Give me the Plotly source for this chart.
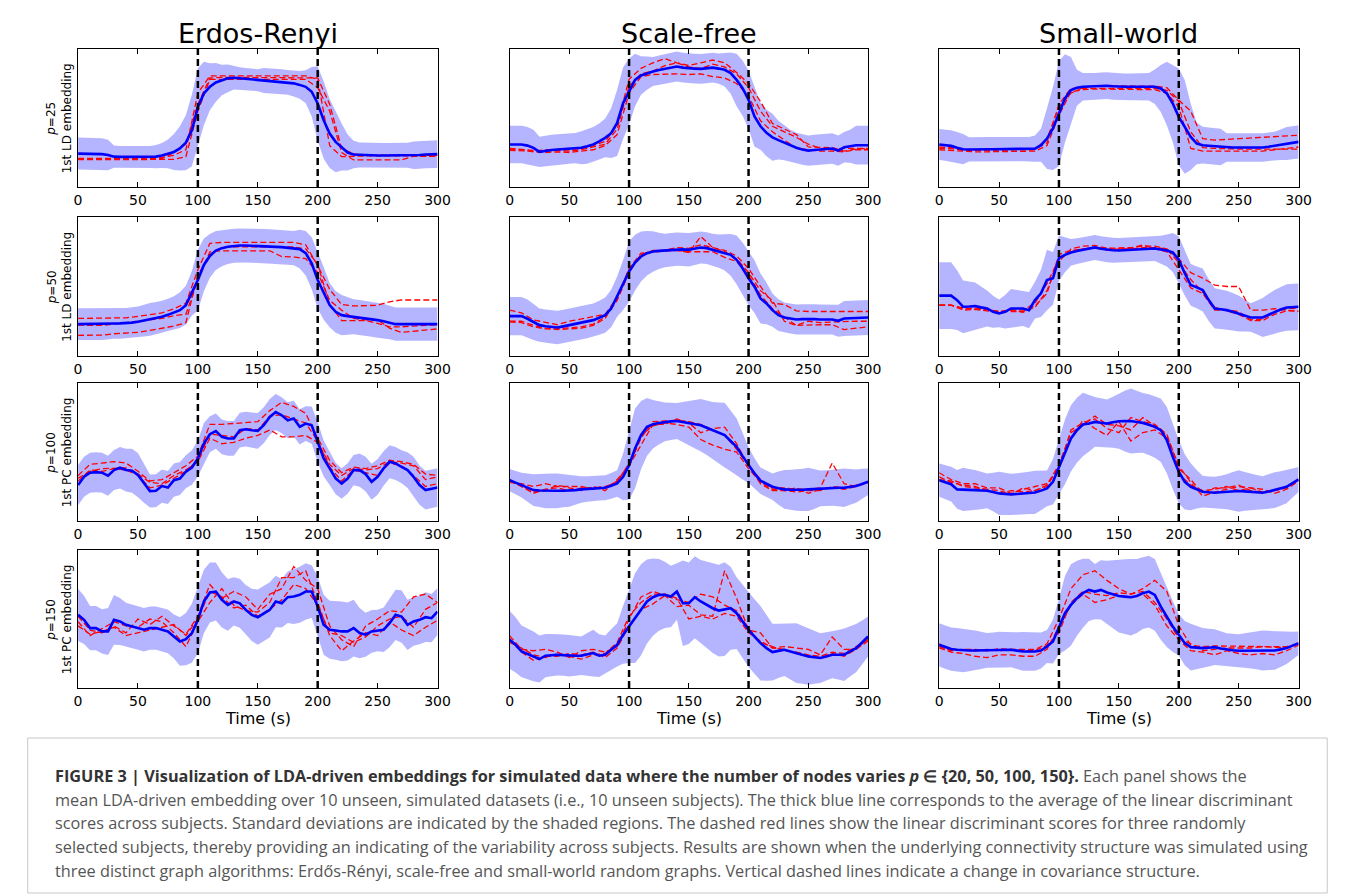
import plotly.graph_objects as go

W, H = 1358, 895

time5 = list(range(0, 301, 5))
time10 = list(range(0, 301, 10))
change_points = [100, 200]
x_ticks = [0, 50, 100, 150, 200, 250, 300]

column_titles = ["Erdos-Renyi", "Scale-free", "Small-world"]
row_labels = [
    "<i>p</i>=25<br>1st LD embedding",
    "<i>p</i>=50<br>1st LD embedding",
    "<i>p</i>=100<br>1st PC embedding",
    "<i>p</i>=150<br>1st PC embedding",
]
x_title = "Time (s)"

# ---------------- Erdos-Renyi, p=25 ----------------
er25_mean = [24.2,24.2,24.2,24.0,23.8,23.2,22.0,21.8,21.8,21.8,
             21.8,21.8,21.8,22.0,22.8,24.0,25.4,28.0,32.2,41.0,
             58.0,67.8,72.6,75.8,77.5,78.7,79.2,78.8,78.3,77.8,
             77.4,77.2,77.0,76.6,76.3,75.8,75.1,74.0,72.6,69.0,
             60.5,48.4,38.7,32.7,29.0,25.0,23.5,23.2,23.0,23.0,
             22.8,22.8,22.8,22.8,23.0,23.0,23.0,23.2,23.5,23.8,
             23.8]
er25_sd = [11.6,11.6,11.6,11.6,11.6,11.0,8.0,8.0,8.0,8.0,
           8.0,8.0,8.0,8.5,9.0,10.5,13.0,16.0,20.0,26.0,
           28.0,23.0,17.0,14.0,11.0,10.0,8.5,8.0,8.0,8.0,
           8.0,9.0,9.0,9.0,9.0,9.0,9.5,10.0,12.0,18.0,
           27.0,28.0,25.0,22.0,17.0,13.0,10.0,9.0,9.0,9.0,
           9.0,9.0,9.0,9.0,9.0,9.0,10.0,10.0,10.0,10.0,
           10.0]
er25_s1 = [20.8,20.8,20.8,20.8,20.8,20.8,20.8,21.5,23.0,27.0,
           68.0,80.5,80.5,80.5,80.5,80.5,80.5,80.5,80.5,80.5,
           78.0,30.0,22.0,22.5,22.5,22.5,22.5,22.5,22.5,22.5,
           22.5]
er25_s2 = [19.8,19.8,19.8,19.8,19.8,19.8,19.8,20.0,20.0,22.0,
           55.0,78.0,78.0,78.0,78.0,78.0,78.0,78.0,78.0,78.0,
           72.0,55.0,25.0,19.6,19.6,19.6,19.6,19.6,22.3,22.3,
           22.3]
er25_s3 = [20.3,20.3,20.3,20.3,20.3,20.3,20.3,20.5,25.0,31.0,
           60.0,79.0,79.5,79.5,79.5,79.5,79.5,79.5,79.5,79.5,
           79.0,60.0,28.0,24.0,23.0,23.0,23.0,23.0,23.0,23.0,
           23.0]

# ---------------- Scale-free, p=25 ----------------
sf25_mean = [30.8,30.8,30.8,30.0,28.4,25.5,26.4,26.8,27.2,27.5,
             27.9,28.2,28.4,29.5,30.8,33.0,35.6,39.0,46.4,60.8,
             69.2,77.6,80.8,82.5,83.7,84.8,85.6,86.5,87.3,86.5,
             86.0,85.8,85.6,86.0,86.5,85.8,84.9,82.5,77.6,71.6,
             63.2,51.2,44.0,39.2,36.0,34.0,32.0,30.0,28.4,27.2,
             26.4,26.8,27.2,27.5,27.9,26.4,28.8,29.5,30.3,30.3,
             30.3]
sf25_sd = [13.5,13.5,13.5,13.5,13.0,11.0,11.0,11.0,11.0,11.0,
           11.0,11.0,12.0,12.6,12.6,13.0,14.0,18.0,24.0,26.0,
           24.0,19.0,14.0,12.0,10.5,10.5,10.8,10.8,10.8,10.8,
           10.8,10.8,10.8,10.8,10.8,11.0,12.0,15.0,19.0,20.0,
           21.0,22.0,17.0,17.0,17.0,14.0,12.6,11.5,11.0,11.0,
           11.0,11.0,11.0,11.0,11.0,11.0,11.0,12.0,14.0,14.0,
           14.0]
sf25_s1 = [28,27,26.5,26,26.5,26,27,29,31,42,
           73,82,84,88,90,87,86,89,87,82,
           72,55,44,40,36,31,28,27,28,28,
           28]
sf25_s2 = [27.5,27,25.5,25,25.5,25,26,27,30,38,
           68,80,81.5,82,82,81.5,82,80,79,75,
           66,48,40,34,28,27,26,26,25.5,27,
           27]
sf25_s3 = [26.5,26.5,26,27,27,27,28,30,33,45,
           78,86,90,93,90,88,90,92,90,83,
           75,62,46,42,38,29,29,28.5,26,27.5,
           28]

# ---------------- Small-world, p=25 ----------------
sw25_mean = [30.8,30.3,29.8,28.5,27.4,27.2,27.1,27.2,27.4,27.4,
             27.4,27.4,27.4,27.4,27.4,27.4,27.8,30.3,35.1,42.4,
             53.3,64.2,70.2,71.9,72.6,72.8,72.9,73.2,73.4,73.0,
             72.6,72.6,72.6,72.6,72.6,72.6,72.6,71.4,67.8,60.5,
             50.8,43.6,36.3,31.5,30.3,29.9,29.5,29.0,28.6,28.6,
             28.6,28.6,28.6,28.6,28.6,29.2,29.8,30.6,31.5,32.1,
             32.7]
sw25_sd = [11.3,11.3,11.3,11.3,11.0,8.8,8.8,8.8,8.8,8.8,
           8.8,8.8,8.8,8.8,8.8,8.8,9.5,12.0,22.0,30.0,
           38.0,32.0,24.0,13.0,10.0,9.7,9.7,9.7,9.7,9.7,
           9.7,9.7,9.7,9.7,9.7,10.0,12.5,17.0,23.0,28.0,
           35.0,34.0,24.0,15.0,13.3,13.3,13.3,13.3,10.3,10.3,
           10.3,10.3,10.3,10.3,10.3,10.3,10.3,11.0,12.0,12.0,
           12.0]
sw25_s1 = [27,26.5,25.5,25.5,25.5,25.5,25.5,25.5,26,30,
           52,69,70.5,71,71,70.5,70.5,71,70.5,68,
           58,28,26,26,26,26,26,26,27,28,
           29]
sw25_s2 = [29,28.5,26.5,26.5,26.5,26.5,26.5,26.5,27,35,
           58,68,72,73.5,73.5,73,73,73,73,72,
           63,55,35,34,34.5,35,35.5,36,36.5,37.5,
           37.5]
sw25_s3 = [28,27.5,27,27,27,27,27,27,27.5,32,
           60,71.5,71.5,71.5,71.5,71.5,71.5,71.5,71.5,70,
           62,40,28.5,28,27.5,27.5,27.5,27.5,27.5,27.5,
           27.5]

# ---------------- Erdos-Renyi, p=50 ----------------
er50_mean = [22.9,22.9,22.9,22.9,22.9,23.1,23.4,23.5,23.6,24.0,
             24.6,25.4,26.3,27.2,28.2,29.6,31.1,33.0,36.6,45.1,
             54.7,65.5,72.0,75.9,77.6,78.6,79.3,79.5,79.5,79.4,
             79.3,79.0,78.8,78.5,78.3,78.0,77.6,76.9,74.0,66.7,
             54.7,45.1,36.6,31.8,29.4,28.7,28.2,27.6,27.0,26.4,
             25.8,25.0,24.1,22.9,22.9,22.9,22.9,22.9,22.9,22.9,
             22.9]
er50_sd = [11.4,11.4,11.4,11.4,11.4,11.2,11.0,11.0,11.0,11.0,
           11.0,11.4,11.8,11.6,11.5,11.6,11.8,12.8,14.0,16.0,
           22.0,19.0,15.7,14.0,13.0,12.5,12.3,12.3,12.3,12.3,
           12.3,12.3,12.3,12.3,12.3,12.3,12.3,14.0,16.0,18.7,
           20.5,19.0,16.0,15.0,14.5,13.5,12.6,12.6,12.6,12.6,
           12.6,12.6,12.0,12.0,12.0,12.0,12.0,12.0,12.0,12.0,
           12.0]
er50_s1 = [27,27,27,27.5,27.5,28.5,29.5,31,34,38,
           62,81,81.7,81.7,81.7,81.7,81.7,81.7,81.7,80,
           65,48,37,36,36.3,36.5,39,40.3,40.3,40.3,
           40.3]
er50_s2 = [22.2,22.2,22,23,24,25,26,27,29,30,
           55,75,75.7,75.7,75.7,75.7,75.7,71.5,71.3,70,
           60,40,33,27,26,26,20,17,18,19,
           19.5]
er50_s3 = [14.9,14.9,15,16,16.5,17,18.5,20,21.5,24,
           58,73,78,78.5,78.5,78.5,78.5,78.5,78.5,77,
           66,37,25.5,25.5,25.5,23.5,21,21,21.5,22,
           22.5]

# ---------------- Scale-free, p=50 ----------------
sf50_mean = [28.7,28.7,28.7,26.8,24.6,22.2,21.4,21.0,20.5,21.3,
             22.2,23.0,23.9,24.8,25.8,27.5,29.4,34.2,42.7,51.1,
             60.7,67.2,71.6,74.0,75.2,75.6,75.9,76.4,76.9,76.7,
             76.4,77.2,78.1,77.6,76.4,75.5,74.5,72.8,69.2,63.1,
             55.9,49.9,41.4,37.8,33.0,29.4,27.7,27.0,26.3,26.5,
             26.7,26.5,26.3,26.3,26.3,25.3,27.0,27.2,27.5,27.6,
             27.7]
sf50_sd = [13.8,13.8,13.8,13.8,13.0,12.0,12.0,12.0,12.0,12.0,
           12.0,12.0,12.0,12.0,12.0,12.3,12.6,13.5,14.5,18.0,
           21.7,20.0,18.0,16.0,14.5,13.0,12.0,12.0,12.0,12.0,
           12.0,11.8,11.5,11.5,11.5,12.0,13.0,15.0,17.5,18.5,
           19.3,19.0,18.0,15.0,12.0,11.5,10.8,10.8,10.8,10.8,
           10.8,10.8,10.8,10.8,10.8,11.5,12.6,12.6,12.6,12.6,
           12.6]
sf50_s1 = [33,31,26,24,22.5,25,26.5,28,30,42,
           62,73,76,76,78,77.5,80,78,76,72,
           63,50,38,37,32.5,32,32,32,32,32,
           32]
sf50_s2 = [25,25,22,20,19,19.5,20,22,27,42,
           63,74,75,75.5,76,74.5,86,78,75,70,
           60,47,40,25,22,22.5,22.5,22.5,19,20,
           21]
sf50_s3 = [24.5,24,21,19.5,19.5,20.5,21,23,28,40,
           60,73,75,76,76,75,75,75,71,68,
           58,44,34,28,22,25,24,24.5,25,25,
           25]

# ---------------- Small-world, p=50 ----------------
sw50_mean = [43.4,43.4,43.4,40.2,35.4,35.6,35.9,35.0,34.2,31.8,
             30.6,31.8,34.2,34.2,34.2,33.0,40.2,45.1,54.7,55.9,
             70.4,72.8,74.5,75.5,76.4,77.2,78.1,77.2,76.4,76.1,
             75.9,76.1,76.4,76.6,76.9,77.1,77.3,76.6,75.9,74.5,
             69.2,59.5,51.1,49.4,47.5,40.2,34.2,33.6,33.0,31.8,
             30.6,29.2,27.7,27.7,27.7,29.7,31.8,33.4,34.9,35.2,
             35.4]
sw50_sd = [24.0,24.0,24.0,21.5,19.0,18.0,17.0,15.0,13.0,11.5,
           10.0,12.0,14.0,13.3,12.6,13.0,13.3,17.0,21.7,19.0,
           16.3,12.5,9.6,9.3,9.0,9.0,9.0,9.0,9.0,9.0,
           9.0,9.0,9.0,9.0,9.0,9.0,9.0,10.0,11.5,14.0,
           17.0,16.0,15.0,15.0,15.5,15.0,14.5,14.2,14.0,13.5,
           13.0,11.5,10.2,12.0,14.0,15.0,15.7,16.2,16.8,16.8,
           16.8]
sw50_s1 = [36.6,36.6,34.5,34,33,32,32,32,36,45,
           73,76,77,78,77.5,77.5,78,79,79,77,
           70,60,56,51,50,50,33,33,34,33,
           32]
sw50_s2 = [36.6,36.6,33,33.5,32.5,31.5,33,31.5,35,47,
           68,77,79,79.5,77.5,77,77.5,80,77,75,
           62,49,45,33,33,32,26,26.5,32,34,
           34.5]
sw50_s3 = [36.6,36.6,34,34.5,33.5,32,33,33,38,52,
           70,75,77,78,76,77,77,78,78,77,
           67,55,46,35,32.5,30,25.5,25.5,30,32.5,
           32.5]

# ---------------- Erdos-Renyi, p=100 ----------------
er100_mean = [26.0,32.1,35.0,35.4,35.0,32.8,36.9,38.6,36.9,36.4,
              33.3,27.2,21.7,21.9,25.3,24.3,29.6,30.8,35.7,38.8,
              45.3,56.1,62.9,65.1,61.0,59.8,59.8,65.8,66.5,65.8,
              65.3,69.4,75.4,79.0,76.6,73.0,74.2,68.2,70.6,69.4,
              57.3,45.3,38.1,30.8,27.2,30.8,36.9,36.9,34.0,28.4,
              32.0,38.1,42.9,41.7,39.3,36.9,32.0,26.0,22.4,23.6,
              24.3]
er100_sd = [14.5,14.5,14.5,14.5,14.5,14.5,14.5,15.0,15.5,16.0,
            16.0,14.0,12.0,12.0,12.0,12.0,12.0,12.0,12.0,12.5,
            13.0,15.0,13.0,12.8,12.6,12.6,12.6,12.6,12.6,12.8,
            13.0,13.0,13.0,13.0,13.0,13.0,13.0,12.8,12.6,13.5,
            14.5,13.0,12.0,11.5,11.0,11.0,11.0,12.0,12.6,13.0,
            13.0,12.5,12.0,12.0,12.0,13.0,14.5,14.3,14.0,14.0,
            14.0]
er100_s1 = [33,41,42,43,42,36,29,30,35,40,
            47,70,70,70.5,71,72,80,86,83,78,
            60,44,35,39,38,40,44,43,41,34,
            33]
er100_s2 = [31,36,38,38,38.5,34,28,27,33,37,
            43,60,56,57,60,62,66,61,61,62,
            57,41,33,38,37,38,43,42,40,30,
            32]
er100_s3 = [29,37,36,38,37,33,24,26,31,36,
            44,63,62,61,67,66,76,77,74,71,
            58,39,29,37,35,33,42,40,33,25,
            27]

# ---------------- Scale-free, p=100 ----------------
sf100_mean = [29.6,27.8,26.0,24.2,22.4,22.1,21.9,21.9,21.9,21.9,
              21.9,22.4,22.9,23.2,23.6,23.8,24.1,25.5,27.2,32.0,
              40.5,52.5,62.2,68.2,70.1,71.0,71.8,72.2,72.5,71.8,
              71.1,70.2,69.4,67.6,65.8,63.9,62.2,58.0,53.7,47.0,
              40.5,34.5,29.2,27.0,24.8,23.8,22.9,22.6,22.4,22.6,
              22.9,23.2,23.6,23.8,24.1,24.1,24.1,24.7,25.3,26.8,
              28.4]
sf100_sd = [8.0,8.5,9.0,10.2,11.5,12.0,12.6,12.6,12.6,12.0,
            11.5,10.5,9.6,9.3,9.0,9.0,9.0,9.3,9.6,17.0,
            25.0,29.0,24.7,21.0,17.5,15.5,14.0,13.5,13.0,14.5,
            16.0,17.5,19.0,19.7,20.5,22.0,23.5,22.0,20.5,17.0,
            13.0,11.0,9.6,9.6,9.6,12.0,14.0,14.5,15.0,15.3,
            15.7,14.5,13.0,13.0,13.0,13.5,14.0,13.0,12.0,11.0,
            9.6]
sf100_s1 = [28,27,25,27,25,25,25,23,24,29,
            40,60,72,72.5,73,72,70,66,62,52,
            40,30,24,24,23,23,24,42,27,25,
            28]
sf100_s2 = [30,25,21,22,26,24,22,25,22,30,
            40,55,70,70,74,71,64,67,68,56,
            40,27,22,22,21,22,22,25,24,26,
            28]
sf100_s3 = [29,25,20,23,24,22,24,24,25,28,
            42,62,69,71,70,68,59,55,52,50,
            38,28,23,22,24,20,23,24,23,25,
            28]

# ---------------- Small-world, p=100 ----------------
sw100_mean = [29.6,28.4,26.7,22.9,22.9,22.6,22.4,22.1,21.9,21.0,
              20.0,19.6,19.3,19.6,20.0,20.3,20.7,22.0,23.6,28.4,
              39.3,50.1,59.8,65.8,69.9,70.6,71.8,71.2,70.6,71.5,
              72.3,72.4,72.5,71.8,71.1,69.8,68.2,65.8,58.6,46.5,
              35.7,28.4,24.8,23.0,21.2,20.8,20.5,20.8,21.2,21.5,
              21.7,21.5,21.2,20.8,20.5,21.4,22.4,23.6,24.8,27.5,
              30.1]
sw100_sd = [12.0,12.3,12.6,14.0,15.7,15.0,14.5,13.5,12.6,14.0,
            15.7,15.3,15.0,15.0,15.0,15.3,15.7,14.5,13.0,16.5,
            20.5,23.5,24.0,23.5,23.0,20.5,18.0,17.7,17.5,18.5,
            20.0,22.0,23.5,22.5,21.7,22.0,22.3,23.0,24.0,23.5,
            23.0,20.0,17.0,14.0,11.5,11.5,11.5,12.0,12.6,14.0,
            15.0,14.0,13.0,12.5,12.0,12.5,13.0,12.5,12.0,10.5,
            9.0]
sw100_s1 = [35,30,27,27,24,24,20,23,25,27,
            38,66,71,74,67,64,75,72,70,63,
            38,30,20,24,24,26,22,21,22,24,
            30]
sw100_s2 = [32,28,26,25,22,20,22,21,22,25,
            40,60,73,67,62,72,58,64,66,60,
            34,26,22,23,25,22,24,21,22,25,
            30]
sw100_s3 = [30,29,25,24,23,22,19,24,22,26,
            41,64,70,76,70,69,66,75,69,62,
            40,28,18,21,23,25,24,23,20,23,
            29]

# ---------------- Erdos-Renyi, p=150 ----------------
er150_mean = [53.0,49.4,43.4,43.4,41.0,41.0,49.4,48.2,45.8,44.6,
              43.4,42.2,43.4,43.4,42.2,41.0,37.3,33.7,35.4,39.8,
              49.4,62.7,69.2,69.9,63.9,60.2,62.7,61.4,56.6,53.0,
              51.3,53.7,56.6,62.7,61.4,65.8,66.3,67.5,69.9,69.9,
              59.0,45.8,42.2,41.7,41.0,41.0,43.4,39.8,38.6,41.0,
              41.7,42.2,47.0,53.0,51.8,45.8,48.2,49.4,51.3,50.6,
              55.4]
er150_sd = [19.0,17.5,16.0,16.0,16.0,17.0,18.0,17.0,16.0,15.8,
            15.7,15.7,15.7,15.7,15.7,15.8,16.0,17.5,19.0,21.5,
            24.0,23.0,21.7,21.0,20.0,18.7,17.5,17.7,18.0,19.0,
            20.0,20.0,20.0,18.7,17.5,18.7,20.0,20.3,20.5,19.0,
            21.7,21.7,21.0,21.3,21.7,21.0,20.5,18.2,16.0,15.5,
            15.0,16.2,17.5,18.2,19.0,18.2,17.5,17.7,18.0,17.5,
            17.0]
er150_s1 = [52,42,40,45,40,50,46,52,45,39,
            52,75,65,70,66,57,68,72,88,78,
            72,45,35,30,45,50,56,55,66,68,
            62]
er150_s2 = [48,38,43,48,45,44,50,48,40,30,
            48,62,72,60,56,55,62,80,80,85,
            62,38,27,34,40,38,48,42,38,44,
            49]
er150_s3 = [45,39,41,44,38,40,42,44,46,38,
            50,70,66,58,60,52,57,64,75,72,
            60,40,38,33,37,45,50,52,44,57,
            62]

# ---------------- Scale-free, p=150 ----------------
sf150_mean = [34.9,31.3,26.5,24.7,22.9,21.0,23.4,23.8,24.1,23.8,
              23.4,23.4,23.4,24.4,25.3,23.4,24.1,27.7,31.3,38.6,
              44.6,50.6,56.6,62.7,65.8,67.5,67.5,66.3,69.9,61.4,
              61.4,65.8,62.7,60.2,57.8,56.1,57.1,57.8,54.2,48.2,
              42.2,37.3,32.5,28.9,26.0,26.9,27.7,26.5,25.3,24.1,
              22.9,22.3,21.7,22.9,24.1,24.1,24.1,26.5,28.9,33.0,
              37.3]
sf150_sd = [21.0,20.0,18.7,18.3,18.0,17.0,15.7,15.3,15.0,15.0,
            15.0,14.5,14.0,15.5,17.0,15.5,14.0,14.8,15.7,21.0,
            26.5,32.5,33.0,30.5,28.0,26.0,24.0,22.2,20.5,31.0,
            29.5,29.7,30.0,31.2,32.5,33.2,34.0,30.0,26.0,26.5,
            27.0,27.0,27.0,23.7,20.5,19.7,19.0,20.3,21.7,21.0,
            20.5,19.2,18.0,17.5,17.0,18.0,19.0,18.2,17.5,16.0,
            14.5]
sf150_s1 = [38,28,27,28,26,22,27,28,26,30,
            50,66,70,67,59,60,53,52,85,65,
            42,40,29,30,29,28,24,37,28,28,
            36]
sf150_s2 = [33,29,24,22,25,23,21,24,25,33,
            52,62,68,68,65,50,52,50,54,52,
            40,34,29,28,25,23,22,25,23,28,
            34]
sf150_s3 = [36,26,20,23,23,25,24,26,22,29,
            45,57,61,67,64,62,68,66,60,56,
            43,33,30,27,26,24,23,26,25,30,
            35]

# ---------------- Small-world, p=150 ----------------
sw150_mean = [31.3,29.7,28.2,27.7,27.2,27.2,27.2,27.2,27.2,27.4,
              27.7,27.7,27.7,27.1,26.5,26.5,26.5,27.2,30.1,33.7,
              44.6,54.2,60.2,65.1,68.7,71.1,69.9,71.1,69.2,68.0,
              66.7,66.2,65.8,66.7,68.7,69.9,67.5,59.0,51.8,44.6,
              38.6,32.5,29.6,29.2,28.9,29.2,29.6,28.6,27.7,27.3,
              27.0,27.1,27.2,27.2,27.2,27.2,27.2,28.0,28.9,30.7,
              32.5]
sw150_sd = [15.7,15.7,15.7,15.7,15.7,15.1,14.5,13.5,12.6,12.8,
            13.0,12.8,12.6,13.3,14.0,14.0,14.0,13.0,12.0,16.0,
            20.0,27.0,29.5,27.2,25.0,22.5,20.0,21.5,23.0,24.7,
            26.5,27.1,27.7,26.8,26.0,26.0,26.0,24.0,22.0,18.5,
            15.0,16.0,17.0,15.7,14.5,13.7,13.0,12.5,12.0,12.0,
            12.0,12.5,13.0,13.7,14.5,14.2,14.0,12.7,11.5,10.0,
            8.5]
sw150_s1 = [30,27,28,28,27,28.5,28,28,28,32,
            50,72,82,85,78,72,68,72,78,70,
            45,31,30,30.5,30.5,30.5,30,30,29.5,29.5,
            32]
sw150_s2 = [29,26,25,23,22,24,24,23,23,28,
            44,60,68,62,64,67,66,68,60,45,
            35,27,26,24,27,25,24,25,24,27,
            31]
sw150_s3 = [32,27,28,27,28,27,28,27,27,31,
            40,62,70,68,67,69,68,70,62,50,
            36,32,27,28,29,29,29,30,30,30,
            32]

panels = [
    [(er25_mean, er25_sd, [er25_s1, er25_s2, er25_s3]),
     (sf25_mean, sf25_sd, [sf25_s1, sf25_s2, sf25_s3]),
     (sw25_mean, sw25_sd, [sw25_s1, sw25_s2, sw25_s3])],
    [(er50_mean, er50_sd, [er50_s1, er50_s2, er50_s3]),
     (sf50_mean, sf50_sd, [sf50_s1, sf50_s2, sf50_s3]),
     (sw50_mean, sw50_sd, [sw50_s1, sw50_s2, sw50_s3])],
    [(er100_mean, er100_sd, [er100_s1, er100_s2, er100_s3]),
     (sf100_mean, sf100_sd, [sf100_s1, sf100_s2, sf100_s3]),
     (sw100_mean, sw100_sd, [sw100_s1, sw100_s2, sw100_s3])],
    [(er150_mean, er150_sd, [er150_s1, er150_s2, er150_s3]),
     (sf150_mean, sf150_sd, [sf150_s1, sf150_s2, sf150_s3]),
     (sw150_mean, sw150_sd, [sw150_s1, sw150_s2, sw150_s3])],
]

for row in panels:
    for m, s, reds in row:
        assert len(m) == len(time5) and len(s) == len(time5)
        for r in reds:
            assert len(r) == len(time10)

caption_lines = [
    "<span style='color:#333'><b>FIGURE 3 | Visualization of LDA-driven embeddings for simulated data where the number of nodes varies <i>p</i> \u2208 {20, 50, 100, 150}.</b></span> Each panel shows the",
    "mean LDA-driven embedding over 10 unseen, simulated datasets (i.e., 10 unseen subjects). The thick blue line corresponds to the average of the linear discriminant",
    "scores across subjects. Standard deviations are indicated by the shaded regions. The dashed red lines show the linear discriminant scores for three randomly",
    "selected subjects, thereby providing an indicating of the variability across subjects. Results are shown when the underlying connectivity structure was simulated using",
    "three distinct graph algorithms: Erd\u0151s-R\u00e9nyi, scale-free and small-world random graphs. Vertical dashed lines indicate a change in covariance structure.",
]

# ---------------- layout (pixel geometry) ----------------
col_px = [(75, 439), (512, 875), (947, 1311)]
row_px = [(49, 187), (217, 356), (383, 521), (550, 688)]
title_y_px = 33
xtitle_y_px = 718
caption_y_px = [776, 800, 823, 847, 871]

BAND = "rgba(0,0,255,0.29)"
BLUE = "#0000ff"
RED = "#ff0000"
MPL_FONT = "DejaVu Sans"

fig = go.Figure()
layout = dict(
    width=W, height=H, margin=dict(l=0, r=0, t=0, b=0),
    paper_bgcolor="white", plot_bgcolor="white", showlegend=False,
)
annotations = []

for i, row in enumerate(panels):
    for j, (m, s, reds) in enumerate(row):
        n = i * 3 + j + 1
        xa = "x" if n == 1 else f"x{n}"
        ya = "y" if n == 1 else f"y{n}"
        upper = [a + b for a, b in zip(m, s)]
        lower = [a - b for a, b in zip(m, s)]
        fig.add_trace(go.Scatter(
            x=time5 + time5[::-1], y=upper + lower[::-1], fill="toself",
            fillcolor=BAND, line=dict(width=0), mode="lines",
            hoverinfo="skip", xaxis=xa, yaxis=ya))
        for r in reds:
            fig.add_trace(go.Scatter(
                x=time10, y=r, mode="lines",
                line=dict(color=RED, width=1.3, dash="6px,3px"),
                xaxis=xa, yaxis=ya))
        fig.add_trace(go.Scatter(
            x=time5, y=m, mode="lines", line=dict(color=BLUE, width=2.6),
            xaxis=xa, yaxis=ya))
        for cp in change_points:
            fig.add_trace(go.Scatter(
                x=[cp, cp], y=[0, 100], mode="lines",
                line=dict(color="black", width=2.5, dash="7px,4px"),
                xaxis=xa, yaxis=ya))
        c0, c1 = col_px[j]
        r0, r1 = row_px[i]
        xkey = "xaxis" if n == 1 else f"xaxis{n}"
        ykey = "yaxis" if n == 1 else f"yaxis{n}"
        layout[xkey] = dict(
            domain=[c0 / W, c1 / W], range=[0, 300], anchor=ya,
            tickvals=x_ticks, ticks="inside", ticklen=5, tickwidth=1,
            tickcolor="black", showline=True, mirror="ticks",
            linecolor="black", linewidth=1, showgrid=False, zeroline=False,
            tickfont=dict(family=MPL_FONT, size=14, color="black"),
            fixedrange=True)
        layout[ykey] = dict(
            domain=[1 - r1 / H, 1 - r0 / H], range=[0, 100], anchor=xa,
            showticklabels=False, ticks="", showline=True, mirror=True,
            linecolor="black", linewidth=1, showgrid=False, zeroline=False,
            fixedrange=True)

for j, t in enumerate(column_titles):
    c0, c1 = col_px[j]
    annotations.append(dict(
        text=t, x=(c0 + c1) / 2 / W, y=1 - title_y_px / H, xref="paper",
        yref="paper", xanchor="center", yanchor="middle", showarrow=False,
        font=dict(family=MPL_FONT, size=27, color="black")))
    annotations.append(dict(
        text=x_title, x=(c0 + c1) / 2 / W, y=1 - xtitle_y_px / H,
        xref="paper", yref="paper", xanchor="center", yanchor="middle",
        showarrow=False, font=dict(family=MPL_FONT, size=16, color="black")))

for i, lab in enumerate(row_labels):
    r0, r1 = row_px[i]
    annotations.append(dict(
        text=lab, x=56 / W, y=1 - (r0 + r1) / 2 / H, xref="paper",
        yref="paper", xanchor="center", yanchor="middle", showarrow=False,
        textangle=-90, align="center",
        font=dict(family=MPL_FONT, size=12, color="black")))

for k, line in enumerate(caption_lines):
    annotations.append(dict(
        text=line, x=50 / W, y=1 - caption_y_px[k] / H, xref="paper",
        yref="paper", xanchor="left", yanchor="middle", showarrow=False,
        align="left", font=dict(family="Open Sans", size=16.3, color="#555")))

layout["annotations"] = annotations
layout["shapes"] = [dict(
    type="rect", xref="paper", yref="paper", x0=24 / W, x1=1340 / W,
    y0=1 - 893 / H, y1=1 - 738 / H, line=dict(color="#c8c8c8", width=1),
    fillcolor="rgba(0,0,0,0)", layer="below")]
fig.update_layout(**layout)

fig.write_html("out.html", config={"displayModeBar": False},
               post_script="document.body.style.margin='0';")
